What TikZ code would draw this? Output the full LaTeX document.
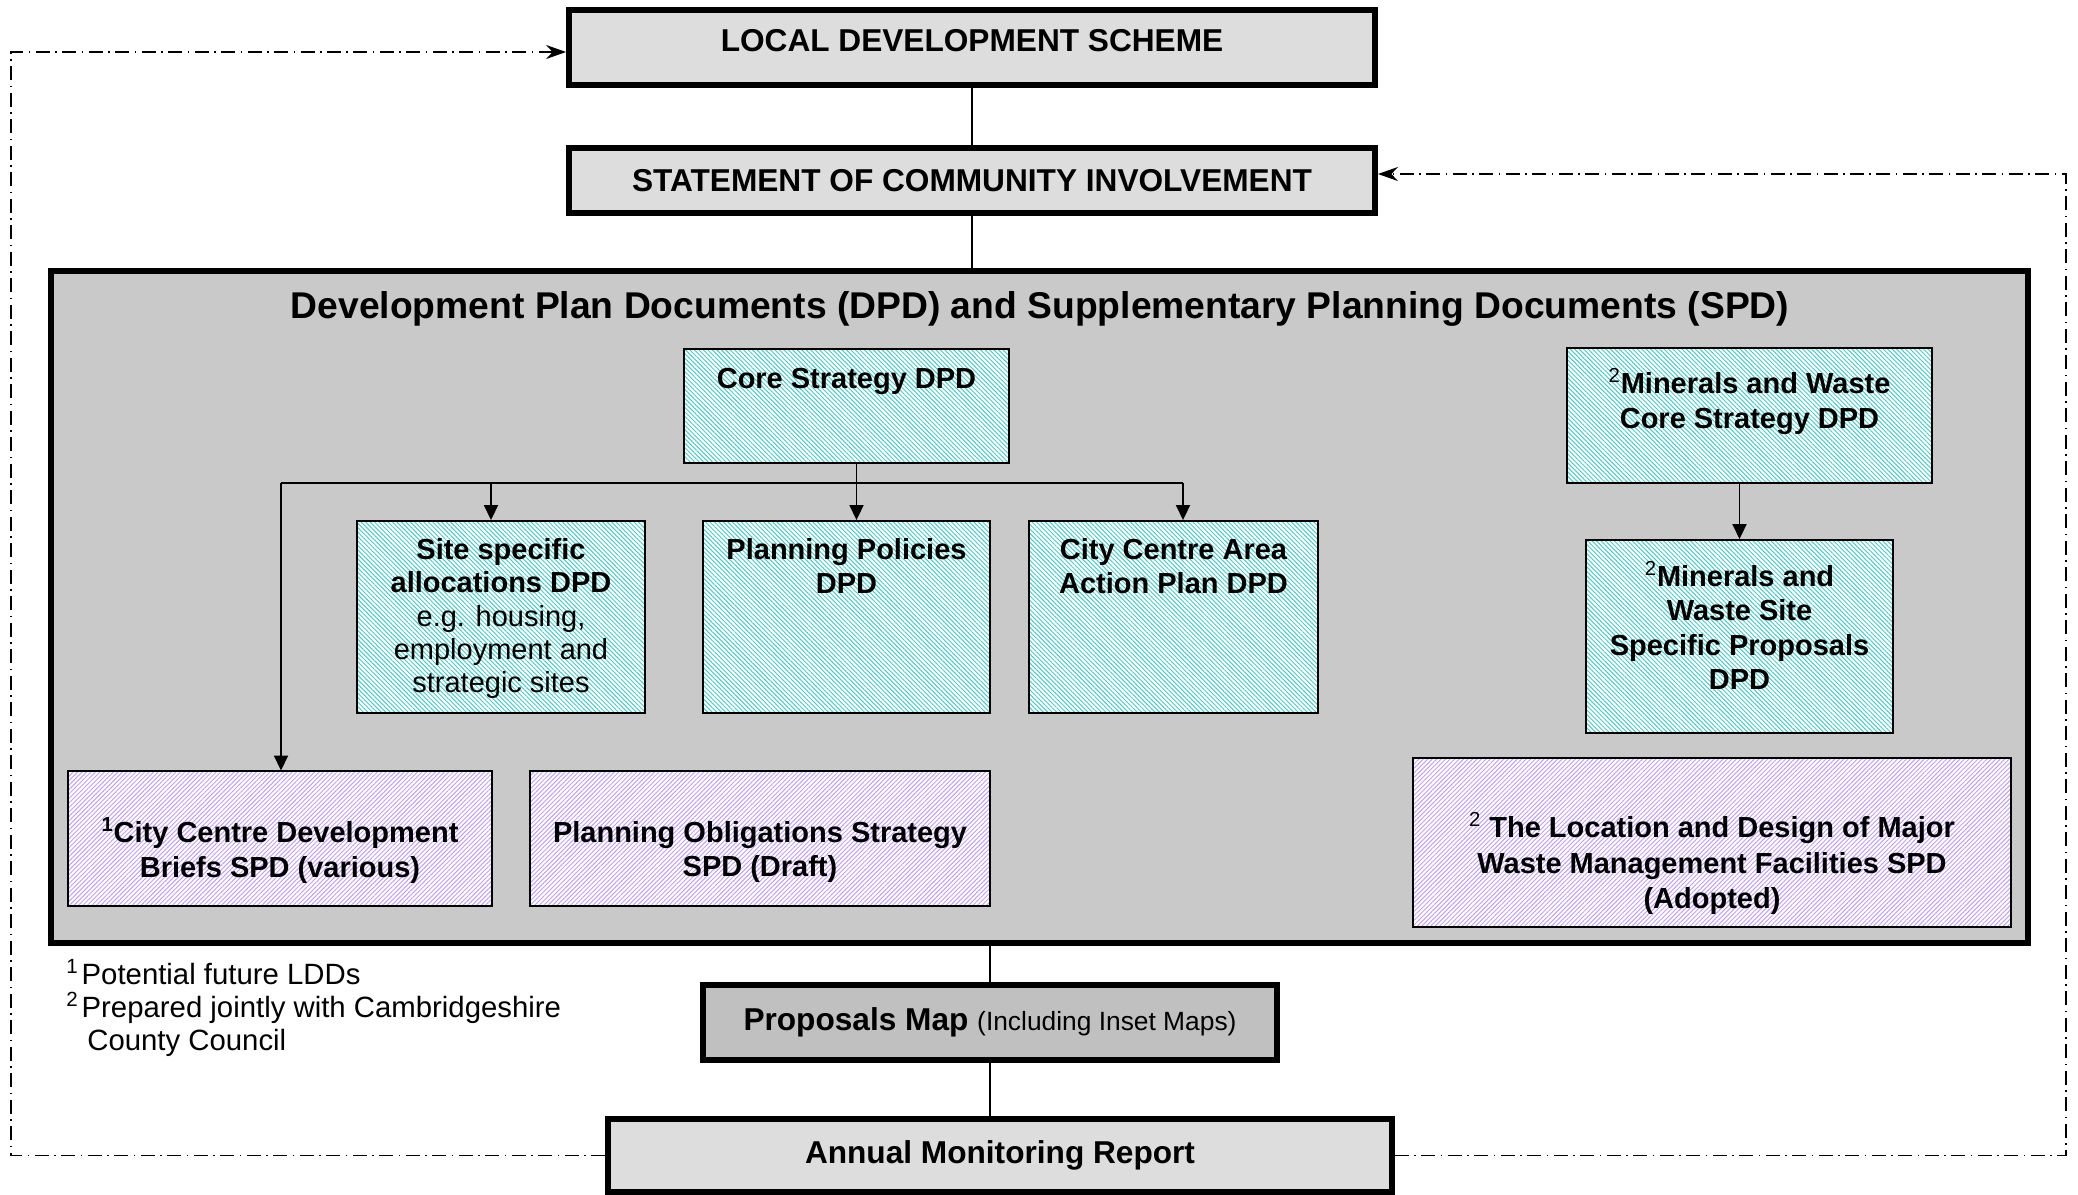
\documentclass[tikz,border=0pt]{standalone}
\usepackage{fontspec}
\setmainfont{Liberation Sans}
\usetikzlibrary{arrows.meta,patterns.meta}
\definecolor{boxgray}{RGB}{221,221,221}
\definecolor{panelgray}{RGB}{201,201,201}
\definecolor{mapgray}{RGB}{192,192,192}
\definecolor{dpdteal}{RGB}{80,200,200}
\definecolor{spdlilac}{RGB}{195,160,240}
\newcommand{\supnum}[1]{\textsuperscript{\mdseries #1}}

\begin{document}
\begin{tikzpicture}[x=0.02cm,y=-0.02cm,
 every node/.style={font=\fontsize{16.5}{19.6}\selectfont},
 head/.style={draw,line width=3.4pt,fill=boxgray,inner sep=0pt,font=\fontsize{18}{21}\selectfont\bfseries},
 dpd/.style={draw,line width=1.1pt,inner sep=0pt,preaction={fill=white},
  pattern={Lines[angle=-45,distance=1.8pt,line width=0.55pt]},pattern color=dpdteal},
 spd/.style={dpd,pattern={Lines[angle=45,distance=1.8pt,line width=0.55pt]},pattern color=spdlilac},
 txt/.style={align=center,inner sep=0pt},
 btxt/.style={txt,font=\fontsize{16.5}{19.6}\selectfont\bfseries},
 conn/.style={line width=1pt},
 arr/.style={-{Triangle[length=0.3cm,width=0.28cm]},line width=1pt},
 fb/.style={-{Stealth[length=0.4cm,width=0.28cm]},line width=0.8pt,
  dash pattern=on 0.28cm off 0.11cm on 0.03cm off 0.11cm}]
\useasboundingbox (0,0) rectangle (2078,1194);
% top of the chain
\node[head,minimum width=16.12cm,minimum height=1.5cm] (lds) at (972,47.5) {};
\node[txt,font=\fontsize{18}{21}\selectfont\bfseries] (ldst) at ([yshift=0.14cm]lds) {LOCAL DEVELOPMENT SCHEME};
\node[head,minimum width=16.12cm,minimum height=1.3cm] (sci) at (972,180.5) {STATEMENT OF COMMUNITY INVOLVEMENT};
% DPD / SPD panel
\node[draw,line width=3.4pt,fill=panelgray,minimum width=39.54cm,minimum height=13.44cm] (panel) at (1039.5,607) {};
\node[font=\fontsize{21.2}{25}\selectfont\bfseries] (ttl) at (1040,309) {Development Plan Documents (DPD) and Supplementary Planning Documents (SPD)};
\node[dpd,minimum width=6.5cm,minimum height=2.28cm] (core) at (846.5,406) {};
\node[btxt] (coret) at ([yshift=0.49cm]core) {Core Strategy DPD};
\node[dpd,txt,font=\fontsize{16.5}{19}\selectfont,minimum width=5.76cm,minimum height=3.84cm] (site) at (501,617) {};
\node[txt,font=\fontsize{16.5}{19}\selectfont] (sitet) at ([yshift=-0.03cm]site) {\textbf{Site specific}\\\textbf{allocations DPD}\\e.g. housing,\\employment and\\strategic sites};
\node[dpd,minimum width=5.74cm,minimum height=3.84cm] (pol) at (846.5,617) {};
\node[btxt] (polt) at ([yshift=1.02cm]pol) {Planning Policies\\DPD};
\node[dpd,minimum width=5.78cm,minimum height=3.84cm] (ccap) at (1173.5,617) {};
\node[btxt] (ccapt) at ([yshift=1.02cm]ccap) {City Centre Area\\Action Plan DPD};
\node[dpd,minimum width=7.3cm,minimum height=2.7cm] (mwcs) at (1749.5,415.5) {};
\node[btxt] (mwcst) at ([yshift=0.28cm]mwcs) {\supnum{2}Minerals and Waste\\Core Strategy DPD};
\node[dpd,minimum width=6.14cm,minimum height=3.86cm] (mwsp) at (1739.5,636.5) {};
\node[btxt] (mwspt) at ([yshift=0.22cm]mwsp) {\supnum{2}Minerals and\\Waste Site\\Specific Proposals\\DPD};
\node[spd,minimum width=8.48cm,minimum height=2.7cm] (ccdb) at (280,838.5) {};
\node[btxt] (ccdbt) at ([yshift=-0.24cm]ccdb) {\textsuperscript{1}City Centre Development\\Briefs SPD (various)};
\node[spd,minimum width=9.2cm,minimum height=2.7cm] (pos) at (760,838.5) {};
\node[btxt] (post) at ([yshift=-0.27cm]pos) {Planning Obligations Strategy\\SPD (Draft)};
\node[spd,minimum width=11.96cm,minimum height=3.38cm] (ldm) at (1712,842.5) {};
\node[btxt,font=\fontsize{16.5}{20.3}\selectfont\bfseries] (ldmt) at ([yshift=-0.42cm]ldm) {\supnum{2} The Location and Design of Major\\Waste Management Facilities SPD\\(Adopted)};
% below the panel
\node[draw,line width=3.4pt,fill=mapgray,inner sep=0pt,minimum width=11.48cm,minimum height=1.5cm] (pmap) at (990,1022.5)
 {\fontsize{18}{21}\selectfont\bfseries Proposals Map \fontsize{15}{18}\selectfont\mdseries(Including Inset Maps)};
\node[head,minimum width=15.68cm,minimum height=1.46cm] (amr) at (1000,1155.5) {Annual Monitoring Report};
\node[align=left,anchor=west,inner sep=0pt,font=\fontsize{16.7}{19}\selectfont] (notes) at (66,1008)
 {\textsuperscript{1}\kern0.06cm Potential future LDDs\\\textsuperscript{2}\kern0.06cm Prepared jointly with Cambridgeshire\\\hspace*{0.42cm}County Council};
% links
\draw[conn] (lds) -- (sci);
\draw[conn] (sci) -- (sci |- panel.north);
\draw[conn] (panel.south -| pmap) -- (pmap);
\draw[conn] (pmap) -- (pmap |- amr.north);
\coordinate (brL) at (281,483);
\coordinate (brR) at (1183,483);
\draw[conn] ([xshift=0.2cm]core.south) -- ([xshift=0.2cm]core.south |- brL);
\draw[conn] (brL) -- (brR);
\draw[arr] (brL) -- (brL |- ccdb.north);
\draw[arr] ([xshift=-0.2cm]site.north |- brL) -- ([xshift=-0.2cm]site.north);
\draw[arr] ([xshift=0.2cm]pol.north |- brL) -- ([xshift=0.2cm]pol.north);
\draw[arr] (brR) -- (brR |- ccap.north);
\draw[arr] (mwcs.south -| mwsp.north) -- (mwsp.north);
% feedback loops
\coordinate (fbL) at (11,52);
\coordinate (fbR) at (2066,174);
\draw[fb] (amr.west) -| (fbL) -- (fbL -| lds.west);
\draw[fb] (amr.east) -| (fbR) -- (fbR -| sci.east);
\end{tikzpicture}
\end{document}
